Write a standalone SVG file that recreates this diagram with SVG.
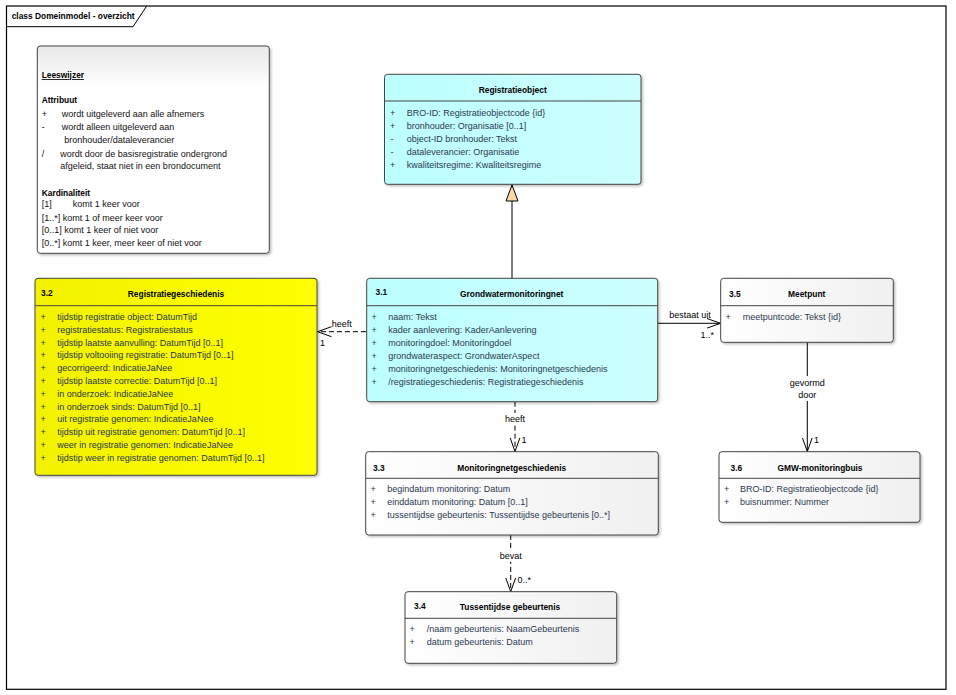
<svg xmlns="http://www.w3.org/2000/svg" width="956" height="695" viewBox="0 0 956 695">
<defs>
<style>
text{font-family:"Liberation Sans",Arial,sans-serif;font-size:9px;fill:#2b3850}
.b{font-weight:bold;font-size:8.4px;fill:#000}
.h{font-weight:bold;font-size:8.4px;fill:#000;text-anchor:middle}
.n{fill:#111}
.lbl{fill:#000;font-size:9px}
.c{text-anchor:middle}
.box{stroke:#444;stroke-width:1;filter:url(#sh)}
.sep{stroke:#444;stroke-width:1}
.con{fill:none;stroke:#000;stroke-width:1}
.dash{stroke-dasharray:5,3}
.bg{fill:#ffffff}
</style>
<linearGradient id="gc" x1="0" y1="0" x2="1" y2="0"><stop offset="0" stop-color="#bdffff"/><stop offset="1" stop-color="#cdffff"/></linearGradient>
<linearGradient id="gy" x1="0" y1="0" x2="1" y2="0"><stop offset="0" stop-color="#f2f200"/><stop offset="1" stop-color="#ffff00"/></linearGradient>
<linearGradient id="gw" x1="0" y1="0" x2="1" y2="0"><stop offset="0" stop-color="#ffffff"/><stop offset="1" stop-color="#f0f0f0"/></linearGradient>
<linearGradient id="gn" x1="0" y1="0" x2="0" y2="1"><stop offset="0" stop-color="#e8e8e8"/><stop offset="0.2" stop-color="#ffffff"/><stop offset="1" stop-color="#ffffff"/></linearGradient>
<filter id="sh" x="-5%" y="-5%" width="110%" height="115%"><feDropShadow dx="1.5" dy="1.5" stdDeviation="1" flood-color="#000" flood-opacity="0.25"/></filter>
<marker id="open" markerUnits="userSpaceOnUse" markerWidth="20" markerHeight="14" refX="14" refY="6" orient="auto"><path d="M0,1 L14,6 L0,11" fill="none" stroke="#000" stroke-width="1"/></marker>
<marker id="gen" markerUnits="userSpaceOnUse" markerWidth="20" markerHeight="20" refX="17" refY="7" orient="auto"><path d="M1,1 L17,7 L1,13 Z" fill="#fbd9a8" stroke="#000" stroke-width="1"/></marker>
</defs>
<rect width="956" height="695" fill="#ffffff"/>
<g id="frame">
<rect x="6.5" y="6" width="939.5" height="683.3" fill="none" stroke="#000" stroke-width="1.2"/>
<path d="M6.5,26.7 H133 L146.7,6" fill="none" stroke="#000" stroke-width="1"/>
<text x="11.7" y="19" class="b">class Domeinmodel - overzicht</text>
</g>
<g id="connectors">
<line class="con" x1="512" y1="278" x2="512" y2="185" marker-end="url(#gen)"/>
<line class="con dash" x1="366" y1="331.7" x2="317.5" y2="331.7" marker-end="url(#open)"/>
<text x="341.7" y="326.5" class="lbl c">heeft</text>
<text x="320" y="346" class="lbl">1</text>
<line class="con" x1="658" y1="323.3" x2="720.5" y2="323.3" marker-end="url(#open)"/>
<text x="690" y="317.5" class="lbl c">bestaat uit</text>
<text x="700.5" y="338" class="lbl">1..*</text>
<line class="con dash" x1="515" y1="401.7" x2="515" y2="451.5" marker-end="url(#open)"/>
<rect class="bg" x="502" y="413" width="26" height="12"/>
<text x="515" y="422" class="lbl c">heeft</text>
<text x="521.5" y="443" class="lbl">1</text>
<line class="con" x1="807.3" y1="342.3" x2="807.3" y2="451.5" marker-end="url(#open)"/>
<rect class="bg" x="788" y="376" width="38" height="25"/>
<text x="807.3" y="385.5" class="lbl c">gevormd</text>
<text x="807.3" y="398" class="lbl c">door</text>
<text x="814" y="443" class="lbl">1</text>
<line class="con dash" x1="510.7" y1="535" x2="510.7" y2="591.7" marker-end="url(#open)"/>
<rect class="bg" x="497" y="550" width="28" height="12"/>
<text x="510.7" y="559" class="lbl c">bevat</text>
<text x="517.5" y="583" class="lbl">0..*</text>
</g>
<g id="leeswijzer">
<rect class="box" x="37.3" y="46" width="232" height="207.3" rx="3" fill="url(#gn)"/>
<text x="41.7" y="78" class="b" text-decoration="underline">Leeswijzer</text>
<text x="41.7" y="102.5" class="b">Attribuut</text>
<text x="41.7" y="117" class="n">+</text><text x="61.7" y="117" class="n">wordt uitgeleverd aan alle afnemers</text>
<text x="41.7" y="130" class="n">-</text><text x="61.7" y="130" class="n">wordt alleen uitgeleverd aan</text>
<text x="64.3" y="142.5" class="n">bronhouder/dataleverancier</text>
<text x="41.7" y="156.5" class="n">/</text><text x="60.3" y="156.5" class="n">wordt door de basisregistratie ondergrond</text>
<text x="60.3" y="168.5" class="n">afgeleid, staat niet in een brondocument</text>
<text x="41.7" y="195.5" class="b">Kardinaliteit</text>
<text x="41.7" y="207" class="n">[1]</text><text x="72.7" y="207" class="n">komt 1 keer voor</text>
<text x="41.7" y="221" class="n">[1..*] komt 1 of meer keer voor</text>
<text x="41.7" y="233" class="n">[0..1] komt 1 keer of niet voor</text>
<text x="41.7" y="246" class="n">[0..*] komt 1 keer, meer keer of niet voor</text>
</g>
<g id="registratieobject">
<rect class="box" x="384.5" y="74.3" width="256.5" height="110" rx="3" fill="url(#gc)"/>
<line class="sep" x1="384.5" y1="101" x2="641" y2="101"/>
<text x="512.7" y="93" class="h">Registratieobject</text>
<text x="390" y="115.5">+</text><text x="406.7" y="115.5">BRO-ID: Registratieobjectcode {id}</text>
<text x="390" y="128.5">+</text><text x="406.7" y="128.5">bronhouder: Organisatie [0..1]</text>
<text x="390.5" y="141.5">-</text><text x="406.7" y="141.5">object-ID bronhouder: Tekst</text>
<text x="390.5" y="154.5">-</text><text x="406.7" y="154.5">dataleverancier: Organisatie</text>
<text x="390" y="167.5">+</text><text x="406.7" y="167.5">kwaliteitsregime: Kwaliteitsregime</text>
</g>
<g id="registratiegeschiedenis">
<rect class="box" x="35" y="278.3" width="282" height="197" rx="3" fill="url(#gy)"/>
<line class="sep" x1="35" y1="305.7" x2="317" y2="305.7"/>
<text x="41" y="296" class="b">3.2</text>
<text x="176" y="297" class="h">Registratiegeschiedenis</text>
<text x="40.5" y="320">+</text><text x="57.3" y="320">tijdstip registratie object: DatumTijd</text>
<text x="40.5" y="332.8">+</text><text x="57.3" y="332.8">registratiestatus: Registratiestatus</text>
<text x="40.5" y="345.6">+</text><text x="57.3" y="345.6">tijdstip laatste aanvulling: DatumTijd [0..1]</text>
<text x="40.5" y="358.4">+</text><text x="57.3" y="358.4">tijdstip voltooiing registratie: DatumTijd [0..1]</text>
<text x="40.5" y="371.2">+</text><text x="57.3" y="371.2">gecorrigeerd: IndicatieJaNee</text>
<text x="40.5" y="384">+</text><text x="57.3" y="384">tijdstip laatste correctie: DatumTijd [0..1]</text>
<text x="40.5" y="396.8">+</text><text x="57.3" y="396.8">in onderzoek: IndicatieJaNee</text>
<text x="40.5" y="409.6">+</text><text x="57.3" y="409.6">in onderzoek sinds: DatumTijd [0..1]</text>
<text x="40.5" y="422.4">+</text><text x="57.3" y="422.4">uit registratie genomen: IndicatieJaNee</text>
<text x="40.5" y="435.2">+</text><text x="57.3" y="435.2">tijdstip uit registratie genomen: DatumTijd [0..1]</text>
<text x="40.5" y="448">+</text><text x="57.3" y="448">weer in registratie genomen: IndicatieJaNee</text>
<text x="40.5" y="460.8">+</text><text x="57.3" y="460.8">tijdstip weer in registratie genomen: DatumTijd [0..1]</text>
</g>
<g id="grondwatermonitoringnet">
<rect class="box" x="366.7" y="278.3" width="291" height="123.4" rx="3" fill="url(#gc)"/>
<line class="sep" x1="366.7" y1="305.7" x2="657.7" y2="305.7"/>
<text x="375.5" y="295" class="b">3.1</text>
<text x="511.7" y="297" class="h">Grondwatermonitoringnet</text>
<text x="371.5" y="319.5">+</text><text x="388.3" y="319.5">naam: Tekst</text>
<text x="371.5" y="332.5">+</text><text x="388.3" y="332.5">kader aanlevering: KaderAanlevering</text>
<text x="371.5" y="345.5">+</text><text x="388.3" y="345.5">monitoringdoel: Monitoringdoel</text>
<text x="371.5" y="358.5">+</text><text x="388.3" y="358.5">grondwateraspect: GrondwaterAspect</text>
<text x="371.5" y="371.5">+</text><text x="388.3" y="371.5">monitoringnetgeschiedenis: Monitoringnetgeschiedenis</text>
<text x="371.5" y="384.5">+</text><text x="388.3" y="384.5">/registratiegeschiedenis: Registratiegeschiedenis</text>
</g>
<g id="meetpunt">
<rect class="box" x="720.7" y="278.3" width="172.6" height="64" rx="3" fill="url(#gw)"/>
<line class="sep" x1="720.7" y1="305.7" x2="893.3" y2="305.7"/>
<text x="729" y="297" class="b">3.5</text>
<text x="806.7" y="297" class="h">Meetpunt</text>
<text x="725.5" y="319.5">+</text><text x="742.7" y="319.5">meetpuntcode: Tekst {id}</text>
</g>
<g id="monitoringnetgeschiedenis">
<rect class="box" x="365.7" y="451.7" width="292.6" height="83.3" rx="3" fill="url(#gw)"/>
<line class="sep" x1="365.7" y1="478.3" x2="658.3" y2="478.3"/>
<text x="373" y="470.5" class="b">3.3</text>
<text x="511.7" y="470.5" class="h">Monitoringnetgeschiedenis</text>
<text x="370.5" y="492">+</text><text x="387.3" y="492">begindatum monitoring: Datum</text>
<text x="370.5" y="505">+</text><text x="387.3" y="505">einddatum monitoring: Datum [0..1]</text>
<text x="370.5" y="518">+</text><text x="387.3" y="518">tussentijdse gebeurtenis: Tussentijdse gebeurtenis [0..*]</text>
</g>
<g id="gmw-monitoringbuis">
<rect class="box" x="719" y="451.7" width="201" height="70.6" rx="3" fill="url(#gw)"/>
<line class="sep" x1="719" y1="478.3" x2="920" y2="478.3"/>
<text x="730.5" y="470.5" class="b">3.6</text>
<text x="820" y="470.5" class="h">GMW-monitoringbuis</text>
<text x="724" y="491.5">+</text><text x="740" y="491.5">BRO-ID: Registratieobjectcode {id}</text>
<text x="724" y="504.5">+</text><text x="740" y="504.5">buisnummer: Nummer</text>
</g>
<g id="tussentijdse-gebeurtenis">
<rect class="box" x="405" y="591.7" width="211.7" height="71.6" rx="3" fill="url(#gw)"/>
<line class="sep" x1="405" y1="618.3" x2="616.7" y2="618.3"/>
<text x="414" y="609" class="b">3.4</text>
<text x="510" y="610" class="h">Tussentijdse gebeurtenis</text>
<text x="409.5" y="632">+</text><text x="426.7" y="632">/naam gebeurtenis: NaamGebeurtenis</text>
<text x="409.5" y="645">+</text><text x="426.7" y="645">datum gebeurtenis: Datum</text>
</g>
</svg>
